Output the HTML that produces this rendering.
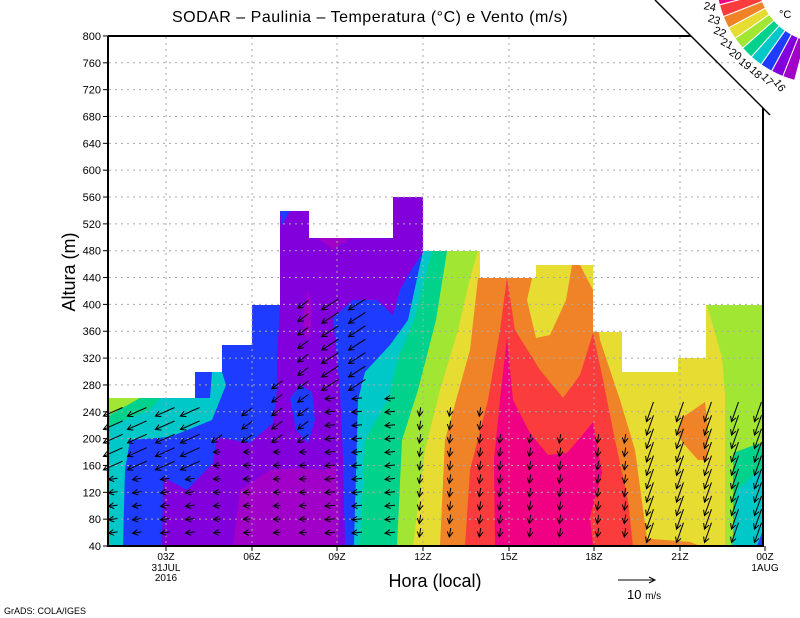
<!DOCTYPE html>
<html><head><meta charset="utf-8"><style>
html,body{margin:0;padding:0;background:#fff;}
svg{display:block;font-family:"Liberation Sans",sans-serif;}
</style></head><body>
<svg id="s" width="800" height="618" viewBox="0 0 800 618" xmlns="http://www.w3.org/2000/svg">
<rect width="800" height="618" fill="#fff"/>
<g id="field">
<rect x="108" y="197" width="655" height="349" fill="#e6dc32"/>
<polygon fill="#f08228" points="440,546 445,440 470,350 478,278 505,278 530,265 580,265 593,290 600,340 620,400 635,450 648,546"/>
<polygon fill="#e6dc32" points="535,265 572,265 566,300 550,335 536,338 527,300"/>
<polygon fill="#fa3c3c" points="465,546 470,470 488,400 500,330 507,278 515,330 540,370 563,398 580,375 593,333 603,380 615,440 628,500 633,546"/>
<polygon fill="#f00082" points="495,546 494,460 500,400 507,338 513,400 530,433 548,455 567,453 585,432 593,422 602,473 590,517 593,546"/>
<polygon fill="#f08228" points="677,433 683,417 705,402 708,427 707,460 698,460 683,443"/>
<polygon fill="#f08228" points="640,538 690,542 700,546 640,546"/>
<polygon fill="#a0e632" points="707,305 763,305 763,546 725,546 725,393 722,357"/>
<polygon fill="#00d28c" points="733,546 733,453 760,443 763,443 763,546"/>
<polygon fill="#00c8c8" points="732,546 737,490 760,470 763,470 763,546"/>
<polygon fill="#1e3cff" points="757,546 763,530 763,546"/>
<polygon fill="#a0e632" points="108,251 478,251 470,278 458,330 440,390 425,450 413,546 108,546"/>
<polygon fill="#00d28c" points="108,251 447,251 436,320 418,390 402,440 397,546 108,546"/>
<polygon fill="#00c8c8" points="108,251 432,251 414,320 398,358 388,400 365,440 360,546 108,546"/>
<polygon fill="#1e3cff" points="108,251 423,251 408,320 390,345 365,372 358,400 354,546 108,546"/>
<polygon fill="#00c8c8" points="108,398 210,398 212,372 222,372 226,385 212,420 170,437 130,440 125,470 123,546 108,546"/>
<polygon fill="#00d28c" points="108,398 160,398 150,410 120,422 108,428"/>
<polygon fill="#a0e632" points="108,398 140,398 108,416"/>
<polygon fill="#8200dc" points="280,197 423,197 423,252 413,267 400,290 393,315 377,300 353,300 333,318 337,357 340,390 343,457 345,546 162,546 163,477 187,490 213,463 217,437 250,443 273,423 277,390 277,357 280,305"/>
<polygon fill="#1e3cff" points="290,398 300,385 312,392 315,420 308,443 296,430"/>
<polygon fill="#a000c8" points="233,546 240,490 270,470 300,468 325,470 335,462 340,500 338,546"/>
<polygon fill="#a000c8" points="308,290 312,305 310,335 306,340 303,315"/>
<polygon fill="#a000c8" points="318,238 350,238 333,250"/>
<polygon fill="#1e3cff" points="280,211 290,211 282,225"/>
<polygon fill="#fff" points="108,190 108,398 195,398 195,372 222,372 222,345 252,345 252,305 280,305 280,211 309,211 309,238 393,238 393,197 423,197 423,251 480,251 480,278 536,278 536,265 593,265 593,332 622,332 622,372 678,372 678,358 706,358 706,305 763,305 763,190"/>
<rect x="108" y="36" width="655" height="161" fill="#fff"/>
</g>
<g id="grid" stroke="#aaa" stroke-width="1" stroke-dasharray="2,4"></g>
<g id="arrows" stroke="#000" stroke-width="1" fill="none"></g>
<g stroke="#000" stroke-width="2" fill="none">
<line x1="108" y1="36" x2="108" y2="547"/>
<line x1="107" y1="546" x2="764" y2="546"/>
<line x1="108" y1="36" x2="691" y2="36"/>
<line x1="763" y1="108" x2="763" y2="547"/>
</g>
<g id="ticks" stroke="#000" stroke-width="1"></g>
<g id="labels" font-size="11" fill="#000"></g>
<g id="cbar"></g>
<line x1="655" y1="0" x2="770" y2="115" stroke="#000" stroke-width="1.5"/>
<text x="370" y="22" font-size="16" text-anchor="middle" letter-spacing="0.5">SODAR – Paulinia – Temperatura (°C) e Vento (m/s)</text>
<text transform="translate(75,272) rotate(-90)" font-size="18" text-anchor="middle">Altura (m)</text>
<text x="435" y="587" font-size="18" text-anchor="middle">Hora (local)</text>
<line x1="618" y1="580" x2="655" y2="580" stroke="#000"/>
<polyline points="649,577 655,580 649,583" stroke="#000" fill="none"/>
<text x="627" y="599" font-size="13">10 <tspan font-size="10">m/s</tspan></text>
<text x="4" y="614" font-size="9">GrADS: COLA/IGES</text>
<text x="779" y="18" font-size="11">°C</text>
</svg>
<script>
var NS="http://www.w3.org/2000/svg";
function el(p,t,a,txt){var e=document.createElementNS(NS,t);for(var k in a)e.setAttribute(k,a[k]);if(txt!==undefined)e.textContent=txt;document.getElementById(p).appendChild(e);return e;}
function Y(h){return 546-(h-40)*0.6711;}
var xt=[166,252,337,423,509,594,680];
for(var h=80;h<=760;h+=40){el("grid","line",{x1:109,y1:Y(h),x2:762,y2:Y(h)});}
xt.forEach(function(x){el("grid","line",{x1:x,y1:37,x2:x,y2:545});});
for(var h=40;h<=800;h+=40){el("ticks","line",{x1:103,y1:Y(h),x2:108,y2:Y(h)});el("labels","text",{x:101,y:Y(h)+4,"text-anchor":"end"},String(h));}
var xl=["03Z","06Z","09Z","12Z","15Z","18Z","21Z","00Z"];
xt.concat([765]).forEach(function(x,i){el("ticks","line",{x1:x,y1:546,x2:x,y2:551});el("labels","text",{x:x,y:560,"text-anchor":"middle","font-size":"10"},xl[i]);});
el("labels","text",{x:166,y:571,"text-anchor":"middle","font-size":"10"},"31JUL");
el("labels","text",{x:166,y:581,"text-anchor":"middle","font-size":"10"},"2016");
el("labels","text",{x:765,y:571,"text-anchor":"middle","font-size":"10"},"1AUG");
function maxH(x){if(x<200)return 250;if(x<230)return 200;if(x<260)return 240;if(x<300)return 280;if(x<365)return 400;if(x<420)return 260;if(x<500)return 240;if(x<640)return 200;return 250;}
function dir(x,h){
 if(x<200)return h>150?[-1,0.45,1.8]:[-1,0.15,0.6];
 if(x<330)return h>180?[-0.8,0.6,1.0]:[-1,0.05,0.4];
 if(x<420)return h>260?[-0.85,0.55,1.7]:[-1,0.1,0.7];
 if(x<640)return [-0.15,1,0.6];
 return [-0.35,1,1.8];
}
var cols=[113,137,165,190,217,247,277,303,330,357,390,420,450,480,500,530,560,598,625,650,680,708,735,758];
cols.forEach(function(x){
 var mh=maxH(x);
 for(var h=60;h<=mh;h+=20){
  var y=Y(h);
  var d=dir(x,h);var L=10*d[2]+3;var n=Math.hypot(d[0],d[1]);var ux=d[0]/n,uy=d[1]/n;
  var x0=x-ux*L/2,y0=y-uy*L/2,x1=x+ux*L/2,y1=y+uy*L/2;
  el("arrows","line",{x1:x0.toFixed(1),y1:y0.toFixed(1),x2:x1.toFixed(1),y2:y1.toFixed(1)});
  var a=0.5,hl=6,bx=-ux,by=-uy;
  var p1=[x1+hl*(bx*Math.cos(a)-by*Math.sin(a)),y1+hl*(bx*Math.sin(a)+by*Math.cos(a))];
  var p2=[x1+hl*(bx*Math.cos(-a)-by*Math.sin(-a)),y1+hl*(bx*Math.sin(-a)+by*Math.cos(-a))];
  el("arrows","polyline",{points:p1[0].toFixed(1)+","+p1[1].toFixed(1)+" "+x1.toFixed(1)+","+y1.toFixed(1)+" "+p2[0].toFixed(1)+","+p2[1].toFixed(1)});
 }
});
var cc=["#f00082","#fa3c3c","#f08228","#e6dc32","#a0e632","#00d28c","#00c8c8","#1e3cff","#8200dc","#a000c8"];
var labs=["24","23","22","21","20","19","18","17","16"];
var cx=822,cy=-22,r1=64,r2=106,a0=172,step=6.7;
function P(r,t){return (cx+r*Math.cos(t)).toFixed(1)+","+(cy+r*Math.sin(t)).toFixed(1);}
for(var i=0;i<10;i++){
 var s=(a0-i*step)*Math.PI/180,e=(a0-(i+1)*step)*Math.PI/180;
 el("cbar","path",{d:"M"+P(r1,s)+" L"+P(r2,s)+" A"+r2+" "+r2+" 0 0 0 "+P(r2,e)+" L"+P(r1,e)+" A"+r1+" "+r1+" 0 0 1 "+P(r1,s)+"Z",fill:cc[i],stroke:"#fff","stroke-width":"1"});
}
for(var i=0;i<9;i++){
 var ad=a0-(i+1)*step,t=ad*Math.PI/180,r=r2+10;
 var x=cx+r*Math.cos(t),y=cy+r*Math.sin(t);
 el("cbar","text",{x:x.toFixed(1),y:y.toFixed(1),"font-size":"11","text-anchor":"middle","dominant-baseline":"middle",transform:"rotate("+(0.8*(180-ad)).toFixed(1)+" "+x.toFixed(1)+" "+y.toFixed(1)+")"},labs[i]);
}
</script>
</body></html>
